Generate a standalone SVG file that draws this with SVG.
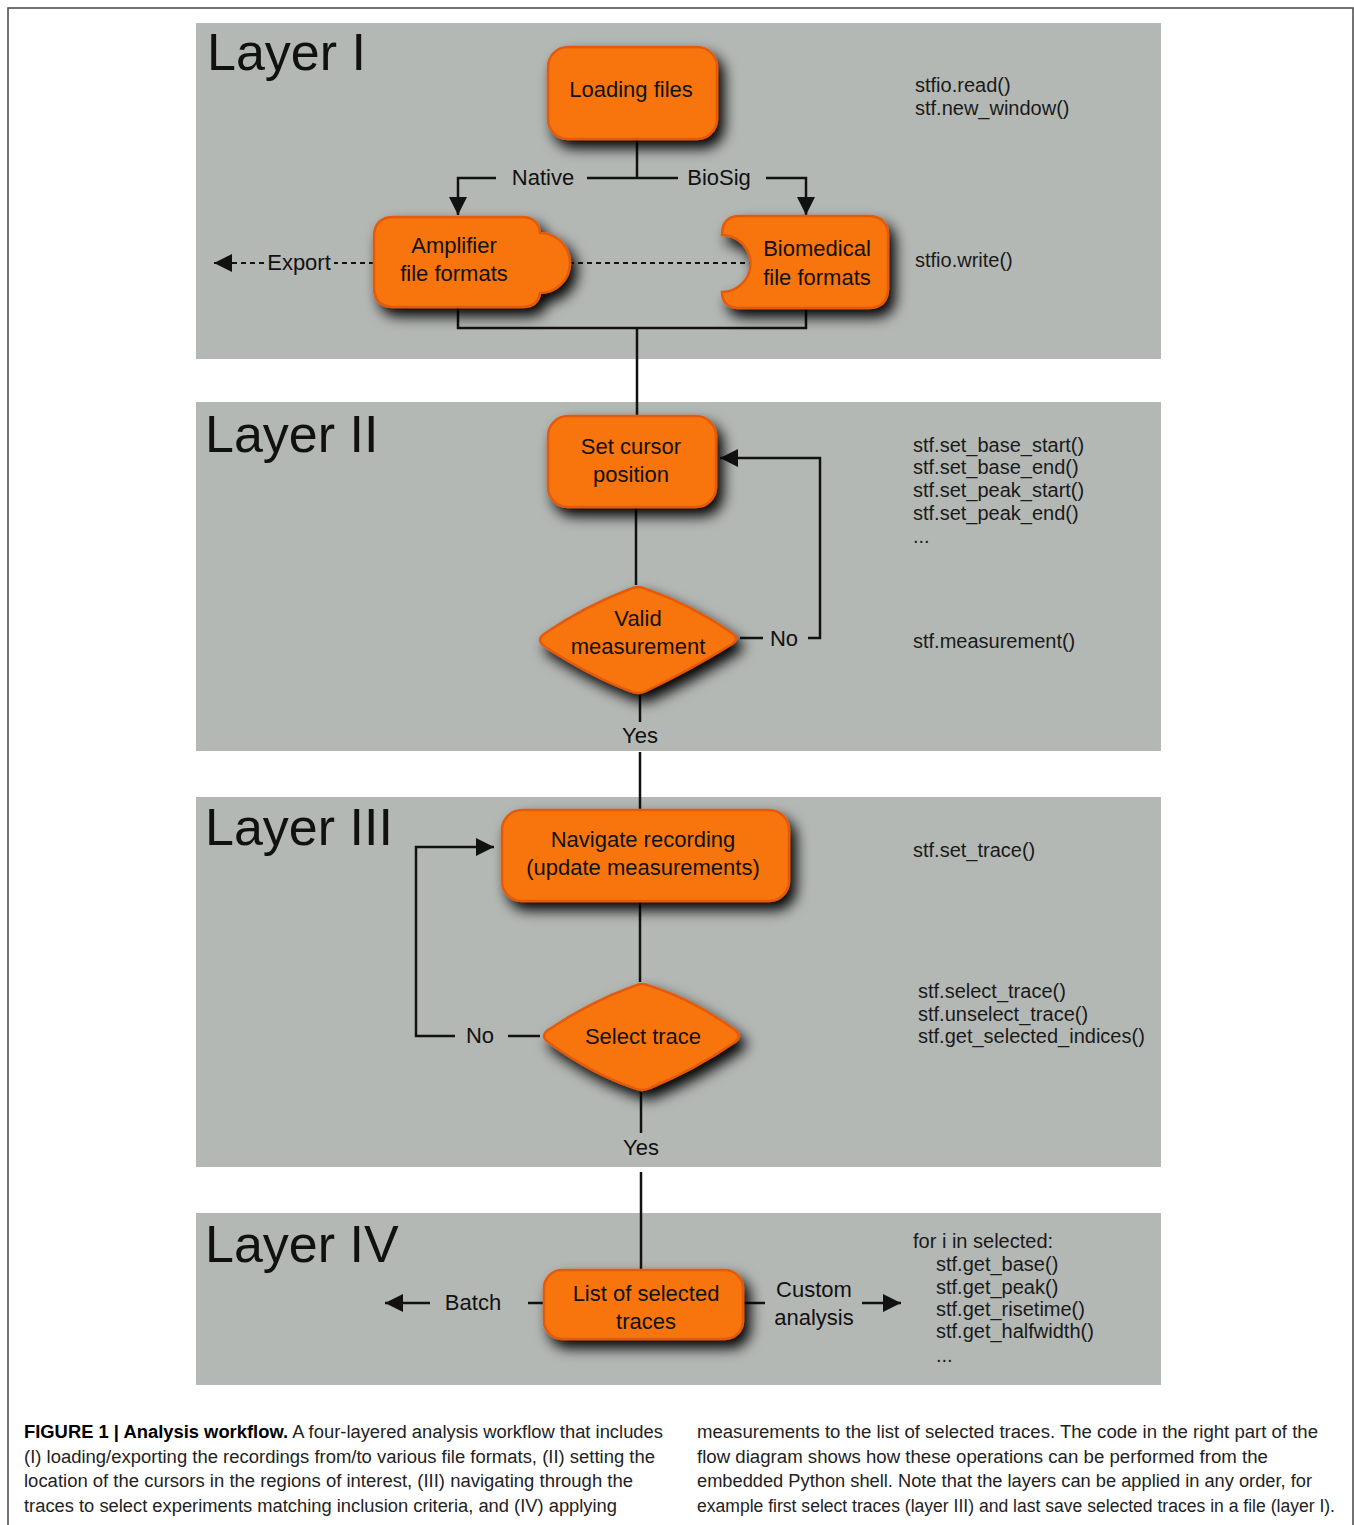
<svg xmlns="http://www.w3.org/2000/svg" width="1354" height="1525" viewBox="0 0 1354 1525">
<style>
.panel{fill:#b4b8b5}
.node{fill:#f87510;stroke:#e35a0c;stroke-width:2.5}
.lbl{font-family:"Liberation Sans",Arial,sans-serif;font-size:22px;fill:#111;text-anchor:middle}
.layer{font-family:"Liberation Sans",Arial,sans-serif;font-size:52px;fill:#111}
.code{font-family:"Liberation Sans",Arial,sans-serif;font-size:20px;fill:#1a1a1a}
.cap{font-family:"Liberation Sans",Arial,sans-serif;font-size:18px;fill:#222}
.ln{fill:none;stroke:#111;stroke-width:2.5}
.dash{fill:none;stroke:#111;stroke-width:2;stroke-dasharray:5 4}
</style>
<defs>
<filter id="sh" x="-20%" y="-20%" width="150%" height="160%">
<feDropShadow dx="6" dy="8" stdDeviation="7" flood-color="#000" flood-opacity="1"/>
</filter>
<marker id="ah" viewBox="0 0 10 10" refX="10" refY="5" markerWidth="20" markerHeight="18" markerUnits="userSpaceOnUse" orient="auto">
<path d="M0,0 L10,5 L0,10 Z" fill="#111"/>
</marker>
</defs>
<rect x="8" y="8" width="1345" height="1530" fill="#fff" stroke="#444" stroke-width="1.5"/>
<rect class="panel" x="196" y="23" width="965" height="336"/>
<rect class="panel" x="196" y="402" width="965" height="349"/>
<rect class="panel" x="196" y="797" width="965" height="370"/>
<rect class="panel" x="196" y="1213" width="965" height="172"/>
<text class="layer" x="207" y="70">Layer I</text>
<text class="layer" x="205" y="452">Layer II</text>
<text class="layer" x="205" y="845">Layer III</text>
<text class="layer" x="205" y="1262">Layer IV</text>
<g id="connectors">
<path class="ln" d="M637,139 V178 M587,178 H678"/>
<path class="ln" d="M496,178 H458 V215" marker-end="url(#ah)"/>
<path class="ln" d="M766,178 H806 V215" marker-end="url(#ah)"/>
<path class="dash" d="M374,263 H334"/>
<path class="dash" d="M264,263 H214" marker-end="url(#ah)"/>
<path class="dash" d="M569,263 H750"/>
<path class="ln" d="M458,307 V328 H806 V308 M637,328 V416"/>
<path class="ln" d="M636,507 V585"/>
<path class="ln" d="M740,638 H763"/>
<path class="ln" d="M808,638 H820 V458 H720" marker-end="url(#ah)"/>
<path class="ln" d="M640,695 V722 M640,752 V810"/>
<path class="ln" d="M640,901 V982"/>
<path class="ln" d="M540,1036 H508"/>
<path class="ln" d="M455,1036 H416 V847 H494" marker-end="url(#ah)"/>
<path class="ln" d="M641,1092 V1133 M641,1172 V1270"/>
<path class="ln" d="M544,1303 H528 M743,1303 H765"/>
<path class="ln" d="M430,1303 H385" marker-end="url(#ah)"/>
<path class="ln" d="M862,1303 H901" marker-end="url(#ah)"/>
</g>
<g id="lbls">
<text class="lbl" x="543" y="185">Native</text>
<text class="lbl" x="719" y="185">BioSig</text>
<text class="lbl" x="299" y="270">Export</text>
<text class="lbl" x="784" y="646">No</text>
<text class="lbl" x="640" y="743">Yes</text>
<text class="lbl" x="480" y="1043">No</text>
<text class="lbl" x="641" y="1155">Yes</text>
<text class="lbl" x="473" y="1310">Batch</text>
<text class="lbl" x="814" y="1297">Custom</text>
<text class="lbl" x="814" y="1325">analysis</text>
</g>
<g id="loading">
<rect class="node" filter="url(#sh)" x="548" y="47" width="169" height="92" rx="20"/>
<text class="lbl" x="631" y="97">Loading files</text>
</g>
<g id="amplifier">
<path class="node" filter="url(#sh)" d="M394,217 H522 Q538,217 540,233 A30 30 0 0 1 540,293 Q538,307 522,307 H394 Q374,307 374,287 V237 Q374,217 394,217 Z"/>
<text class="lbl" x="454" y="253">Amplifier</text>
<text class="lbl" x="454" y="281">file formats</text>
</g>
<g id="biomedical">
<path class="node" filter="url(#sh)" d="M740,216 H868 Q888,216 888,236 V288 Q888,308 868,308 H740 Q722,308 722,292 A28.5 28.5 0 0 0 722,235 Q722,216 740,216 Z"/>
<text class="lbl" x="817" y="256">Biomedical</text>
<text class="lbl" x="817" y="285">file formats</text>
</g>
<g id="setcursor">
<rect class="node" filter="url(#sh)" x="548" y="416" width="168" height="91" rx="20"/>
<text class="lbl" x="631" y="454">Set cursor</text>
<text class="lbl" x="631" y="482">position</text>
</g>
<g id="valid">
<path class="node" filter="url(#sh)" stroke-linejoin="round" d="M544,634 Q536,640 544,646 Q590,676 630,691 Q638,695 646,691 Q690,670 732,644 Q740,638 732,633 Q690,604 646,589 Q638,585 630,589 Q585,606 544,634 Z"/>
<text class="lbl" x="638" y="626">Valid</text>
<text class="lbl" x="638" y="654">measurement</text>
</g>
<g id="navigate">
<rect class="node" filter="url(#sh)" x="502" y="810" width="287" height="91" rx="20"/>
<text class="lbl" x="643" y="847">Navigate recording</text>
<text class="lbl" x="643" y="875">(update measurements)</text>
</g>
<g id="selecttrace">
<path class="node" filter="url(#sh)" stroke-linejoin="round" d="M548,1030 Q540,1036 548,1042 Q592,1074 634,1088 Q642,1092 650,1088 Q694,1070 735,1042 Q743,1036 735,1030 Q694,1000 650,986 Q642,982 634,986 Q590,1002 548,1030 Z"/>
<text class="lbl" x="643" y="1044">Select trace</text>
</g>
<g id="list">
<rect class="node" filter="url(#sh)" x="544" y="1270" width="199" height="69" rx="18"/>
<text class="lbl" x="646" y="1301">List of selected</text>
<text class="lbl" x="646" y="1329">traces</text>
</g>
<g id="code">
<text class="code" x="915" y="92">stfio.read()</text>
<text class="code" x="915" y="115">stf.new_window()</text>
<text class="code" x="915" y="267">stfio.write()</text>
<text class="code" x="913" y="452">stf.set_base_start()</text>
<text class="code" x="913" y="474">stf.set_base_end()</text>
<text class="code" x="913" y="497">stf.set_peak_start()</text>
<text class="code" x="913" y="520">stf.set_peak_end()</text>
<text class="code" x="913" y="543">...</text>
<text class="code" x="913" y="648">stf.measurement()</text>
<text class="code" x="913" y="857">stf.set_trace()</text>
<text class="code" x="918" y="998">stf.select_trace()</text>
<text class="code" x="918" y="1021">stf.unselect_trace()</text>
<text class="code" x="918" y="1043">stf.get_selected_indices()</text>
<text class="code" x="913" y="1248">for i in selected:</text>
<text class="code" x="936" y="1271">stf.get_base()</text>
<text class="code" x="936" y="1294">stf.get_peak()</text>
<text class="code" x="936" y="1316">stf.get_risetime()</text>
<text class="code" x="936" y="1338">stf.get_halfwidth()</text>
<text class="code" x="936" y="1362">...</text>
</g>
<g id="caption">
<text class="cap" x="24" y="1438" textLength="639" lengthAdjust="spacingAndGlyphs"><tspan font-weight="bold" fill="#000">FIGURE 1 | Analysis workflow.</tspan> A four-layered analysis workflow that includes</text>
<text class="cap" x="24" y="1463" textLength="631" lengthAdjust="spacingAndGlyphs">(I) loading/exporting the recordings from/to various file formats, (II) setting the</text>
<text class="cap" x="24" y="1487" textLength="609" lengthAdjust="spacingAndGlyphs">location of the cursors in the regions of interest, (III) navigating through the</text>
<text class="cap" x="24" y="1512" textLength="593" lengthAdjust="spacingAndGlyphs">traces to select experiments matching inclusion criteria, and (IV) applying</text>
<text class="cap" x="697" y="1438" textLength="621" lengthAdjust="spacingAndGlyphs">measurements to the list of selected traces. The code in the right part of the</text>
<text class="cap" x="697" y="1463" textLength="571" lengthAdjust="spacingAndGlyphs">flow diagram shows how these operations can be performed from the</text>
<text class="cap" x="697" y="1487" textLength="615" lengthAdjust="spacingAndGlyphs">embedded Python shell. Note that the layers can be applied in any order, for</text>
<text class="cap" x="697" y="1512" textLength="638" lengthAdjust="spacingAndGlyphs">example first select traces (layer III) and last save selected traces in a file (layer I).</text>
</g>
</svg>
